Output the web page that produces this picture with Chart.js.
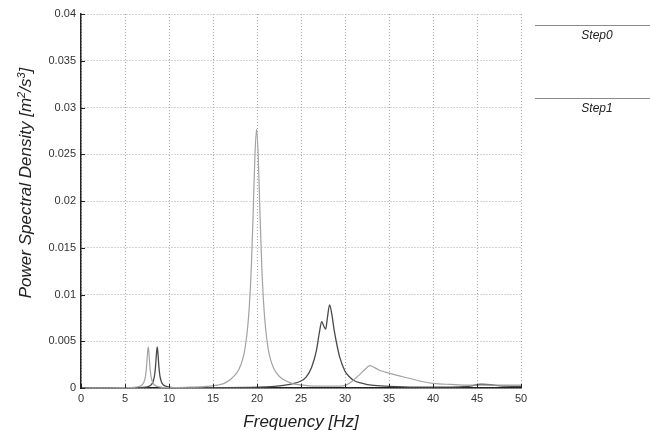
<!DOCTYPE html>
<html><head><meta charset="utf-8">
<script src="https://cdn.jsdelivr.net/npm/chart.js@4.4.1/dist/chart.umd.min.js"></script>
<style>html,body{margin:0;padding:0;background:#fff;}#wrap{width:650px;height:431px;position:relative;}</style>
</head><body><div id="wrap"><canvas id="c" width="650" height="431"></canvas></div>
<script>
const seriesLabels = ['Step0', 'Step1'];

const step0Freq = [0, 3, 5, 6, 6.6, 6.95, 7.2, 7.35, 7.45, 7.54, 7.64, 7.74, 7.84, 7.94, 8.1, 8.35, 8.65, 9.2, 10, 12, 14, 15.5, 16.5, 17.5, 17.95, 18.35, 18.65, 18.95, 19.15, 19.35, 19.55, 19.75, 19.95, 20.15, 20.35, 20.55, 20.75, 20.95, 21.25, 21.55, 21.95, 22.45, 22.95, 23.95, 24.95, 26, 27, 28, 29, 29.8, 30.5, 31.5, 32.3, 32.8, 33.9, 35.1, 37, 38.9, 40, 42, 44, 46, 48, 50];
const step0Psd  = [0, 0.00002, 0.00004, 0.000065, 0.00016, 0.00034, 0.00075, 0.00142, 0.00231, 0.00352, 0.0044, 0.00352, 0.0022, 0.00135, 0.0007, 0.00032, 0.00017, 0.00007, 0.00005, 0.00008, 0.00015, 0.0003, 0.0006, 0.00137, 0.002, 0.003, 0.0043, 0.0066, 0.0091, 0.0128, 0.0183, 0.0245, 0.0277, 0.0245, 0.0183, 0.0128, 0.0091, 0.0066, 0.0043, 0.003, 0.002, 0.00132, 0.00093, 0.0005, 0.00033, 0.00023, 0.0002, 0.0002, 0.0002, 0.00022, 0.0005, 0.0013, 0.002, 0.0024, 0.0019, 0.00157, 0.0011, 0.00067, 0.0005, 0.00038, 0.0003, 0.0003, 0.0003, 0.0003];

const step1Freq = [0, 5, 6.5, 7.3, 7.7, 8.0, 8.2, 8.37, 8.47, 8.56, 8.66, 8.76, 8.86, 8.96, 9.12, 9.37, 9.7, 10.2, 11, 13, 16, 19, 21, 22, 23, 24, 25, 25.6, 26.2, 26.75, 27.1, 27.35, 27.6, 27.8, 28.0, 28.25, 28.5, 28.75, 29.0, 29.4, 30.0, 30.5, 31, 32, 33, 35, 38, 40, 42, 44, 45.5, 46.5, 48, 50];
const step1Psd  = [0, 0.00002, 0.00004, 0.00009, 0.00018, 0.00037, 0.0007, 0.00142, 0.00231, 0.00352, 0.0044, 0.00352, 0.0022, 0.00135, 0.0007, 0.00032, 0.00017, 0.00007, 0.00004, 0.00003, 0.00004, 0.00007, 0.00012, 0.00018, 0.00028, 0.00045, 0.00075, 0.0012, 0.0022, 0.004, 0.006, 0.0071, 0.0066, 0.0063, 0.0075, 0.0089, 0.0079, 0.0063, 0.005, 0.0033, 0.0018, 0.0012, 0.0008, 0.0005, 0.0003, 0.00018, 0.0001, 0.0001, 0.0001, 0.00018, 0.0004, 0.00035, 0.0002, 0.00018];

const xTicks = [0, 5, 10, 15, 20, 25, 30, 35, 40, 45, 50];
const xTickLabels = ['0', '5', '10', '15', '20', '25', '30', '35', '40', '45', '50'];
const yTicks = [0, 0.005, 0.01, 0.015, 0.02, 0.025, 0.03, 0.035, 0.04];
const yTickLabels = ['0', '0.005', '0.01', '0.015', '0.02', '0.025', '0.03', '0.035', '0.04'];
const xTitle = 'Frequency [Hz]';
const yTitleParts = [['Power Spectral Density [m', false], ['2', true], ['/s', false], ['3', true], [']', false]];

const FONT = '"Liberation Sans", Arial, sans-serif';
const colors = ['#a2a2a2', '#4a4a4a'];

function pts(f, v) { return f.map((x, i) => ({ x: x, y: v[i] })); }

const decor = {
  id: 'decor',
  afterDraw(chart) {
    const { ctx, chartArea: a, scales: { x, y } } = chart;
    ctx.save();
    ctx.strokeStyle = '#222'; ctx.lineWidth = 1;
    xTicks.forEach(v => {
      const px = Math.round(x.getPixelForValue(v)) + 0.5;
      ctx.beginPath(); ctx.moveTo(px, a.bottom); ctx.lineTo(px, a.bottom - 4); ctx.stroke();
    });
    yTicks.forEach(v => {
      const py = Math.round(y.getPixelForValue(v)) + 0.5;
      ctx.beginPath(); ctx.moveTo(a.left, py); ctx.lineTo(a.left + 4, py); ctx.stroke();
    });
    const big = 'italic 17px ' + FONT, small = 'italic 11px ' + FONT;
    let total = 0;
    yTitleParts.forEach(p => { ctx.font = p[1] ? small : big; total += ctx.measureText(p[0]).width; });
    ctx.translate(25, 183);
    ctx.rotate(-Math.PI / 2);
    ctx.fillStyle = '#222';
    ctx.textBaseline = 'alphabetic';
    ctx.textAlign = 'left';
    let cx = -total / 2;
    yTitleParts.forEach(p => {
      ctx.font = p[1] ? small : big;
      ctx.fillText(p[0], cx, p[1] ? 0 : 6);
      cx += ctx.measureText(p[0]).width;
    });
    ctx.restore();
    ctx.save();
    chart.data.datasets.forEach((ds, i) => {
      const ly = 25.5 + i * 73;
      ctx.strokeStyle = '#8a8a8a'; ctx.lineWidth = 1.2;
      ctx.beginPath(); ctx.moveTo(535, ly); ctx.lineTo(650, ly); ctx.stroke();
      ctx.font = 'italic 12px ' + FONT;
      ctx.fillStyle = '#222'; ctx.textAlign = 'center'; ctx.textBaseline = 'middle';
      ctx.fillText(ds.label, 597, ly + 10);
    });
    ctx.restore();
  }
};

new Chart(document.getElementById('c'), {
  type: 'line',
  data: {
    datasets: [
      { label: seriesLabels[0], data: pts(step0Freq, step0Psd), borderColor: colors[0], borderWidth: 1.2, pointRadius: 0, fill: false, cubicInterpolationMode: 'monotone' },
      { label: seriesLabels[1], data: pts(step1Freq, step1Psd), borderColor: colors[1], borderWidth: 1.3, pointRadius: 0, fill: false, cubicInterpolationMode: 'monotone' }
    ]
  },
  options: {
    responsive: false, animation: false, devicePixelRatio: 1,
    layout: { padding: { left: 0, top: 14, right: 129, bottom: 0 } },
    plugins: { legend: { display: false }, tooltip: { enabled: false } },
    scales: {
      x: {
        type: 'linear', min: 0, max: 50,
        afterBuildTicks: s => { s.ticks = xTicks.map(v => ({ value: v })); },
        afterFit: s => { s.height = 43; },
        ticks: { callback: (v, i) => xTickLabels[i], font: { family: FONT, size: 11 }, color: '#333', padding: 4, maxRotation: 0, autoSkip: false },
        grid: { color: '#a8a8a8', lineWidth: 1, drawTicks: false },
        border: { display: true, color: '#222', width: 1.5, dash: [1, 2] },
        title: { display: true, text: xTitle, font: { family: FONT, size: 17, style: 'italic', lineHeight: 1 }, color: '#222', padding: { top: 0, bottom: 0 } }
      },
      y: {
        type: 'linear', min: 0, max: 0.04,
        afterBuildTicks: s => { s.ticks = yTicks.map(v => ({ value: v })); },
        afterFit: s => { s.width = 81; },
        ticks: { callback: (v, i) => yTickLabels[i], font: { family: FONT, size: 11 }, color: '#333', padding: 5, autoSkip: false },
        grid: { color: '#a8a8a8', lineWidth: 1, drawTicks: false },
        border: { display: true, color: '#222', width: 1.5, dash: [1, 2] }
      }
    }
  },
  plugins: [decor]
});
</script></body></html>
